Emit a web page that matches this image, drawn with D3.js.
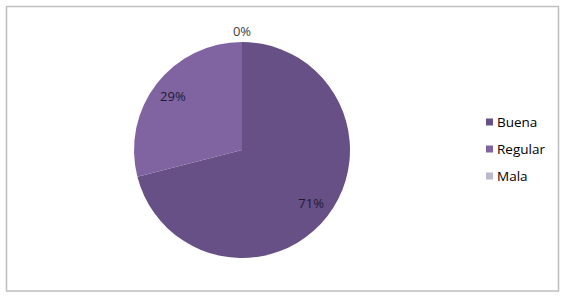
<!DOCTYPE html>
<html>
<head>
<meta charset="utf-8">
<script src="https://cdn.jsdelivr.net/npm/d3@7"></script>
<style>
  body { margin: 0; background: #fff; }
  svg text { font-family: "Open Sans", "Noto Sans", sans-serif; }
</style>
</head>
<body>
<div id="chart"></div>
<script>
// calidad del servicio
let categories = ["Buena", "Regular", "Mala"];
let values = [71, 29, 0];
let labels = ["71%", "29%", "0%"];
let colors = ["#675085", "#8064a2", "#bcb6ce"];

let width = 567, height = 308;

let svg = d3.select("#chart").append("svg")
    .attr("width", width)
    .attr("height", height);

// chart frame
svg.append("rect")
    .attr("x", 6.5).attr("y", 6.5)
    .attr("width", 552).attr("height", 284.5)
    .attr("fill", "#fff")
    .attr("stroke", "#bfbfbf")
    .attr("stroke-width", 1.5);

let cx = 242, cy = 150, radius = 108;

let data = categories.map((c, i) => ({cat: c, value: values[i], label: labels[i], color: colors[i]}));

let pie = d3.pie().sort(null).value(d => d.value);
let arc = d3.arc().innerRadius(0).outerRadius(radius);
let arcs = pie(data);

let g = svg.append("g").attr("transform", `translate(${cx},${cy})`);

g.selectAll("path").data(arcs)
    .enter()
    .append("path")
    .attr("d", arc)
    .attr("fill", d => d.data.color);

// data labels
let labelArc = d3.arc().innerRadius(radius * 0.81).outerRadius(radius * 0.81);
g.selectAll("text.lbl").data(arcs)
    .enter()
    .append("text")
    .attr("class", "lbl")
    .attr("transform", d => {
        if (d.data.value === 0) return `translate(0,${-radius - 11})`;
        let p = labelArc.centroid(d);
        return `translate(${p[0]},${p[1]})`;
    })
    .attr("text-anchor", "middle")
    .attr("dy", "0.35em")
    .attr("font-size", 13)
    .attr("fill", d => d.data.value === 0 ? "#404040" : "#1e1a33")
    .text(d => d.data.label);

// legend
let legend = svg.append("g").attr("transform", "translate(486,122)");
let items = legend.selectAll("g").data(data)
    .enter()
    .append("g")
    .attr("transform", (d, i) => `translate(0,${i * 27})`);
items.append("rect")
    .attr("x", 0).attr("y", -3.5)
    .attr("width", 7).attr("height", 7)
    .attr("fill", d => d.color);
items.append("text")
    .attr("x", 11)
    .attr("dy", "0.35em")
    .attr("font-size", 13.5)
    .attr("fill", "#000")
    .text(d => d.cat);
</script>
</body>
</html>
